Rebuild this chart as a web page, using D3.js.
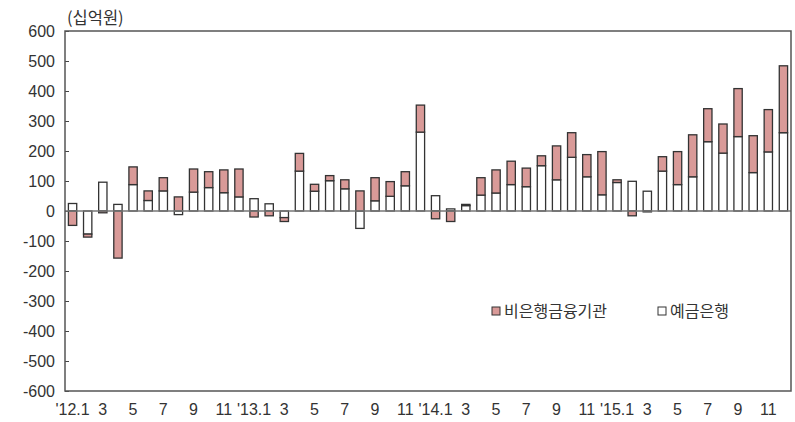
<!DOCTYPE html>
<html>
<head>
<meta charset="utf-8">
<script src="https://cdn.jsdelivr.net/npm/d3@7"></script>
<style>
  body { margin: 0; background: #fff; }
  svg { display: block; }
  .tick text { fill: #333; }
</style>
</head>
<body>
<svg width="795" height="422"></svg>
<script>
// months, '12.1 .. '15.12
var months = ["'12.1","2","3","4","5","6","7","8","9","10","11","12",
              "'13.1","2","3","4","5","6","7","8","9","10","11","12",
              "'14.1","2","3","4","5","6","7","8","9","10","11","12",
              "'15.1","2","3","4","5","6","7","8","9","10","11","12"];

// 예금은행 (십억원)
var bank = [25, -77, 96, 22, 88, 35, 67, -12, 63, 78, 61, 47,
            41, 24, -22, 133, 66, 101, 74, -58, 34, 49, 84, 263,
            51, 7, 18, 53, 60, 88, 81, 151, 104, 179, 114, 54,
            95, 99, 66, 133, 88, 114, 231, 193, 248, 128, 197, 261];

// 비은행금융기관 (십억원)
var nonbank = [-48, -10, -6, -157, 59, 32, 44, 47, 77, 53, 76, 93,
               -20, -16, -13, 59, 23, 17, 30, 67, 77, 49, 47, 90,
               -26, -35, 4, 58, 77, 78, 62, 33, 113, 82, 74, 144,
               9, -16, -3, 48, 110, 140, 110, 97, 160, 123, 141, 223];

var yTicks = [-600, -500, -400, -300, -200, -100, 0, 100, 200, 300, 400, 500, 600];

var svg = d3.select("svg"),
    width = +svg.attr("width"),
    height = +svg.attr("height");

var margin = {left: 65, right: 4, top: 31, bottom: 31};
var x0 = margin.left, x1 = width - margin.right;
var y0 = height - margin.bottom, y1 = margin.top;

var fontNum = "'Liberation Sans', Arial, sans-serif";
var fontKr = "'Noto Sans CJK KR', sans-serif";

var rows = months.map(function(m, i) {
  return {month: i, bank: bank[i], nonbank: nonbank[i]};
});

var x = d3.scaleBand()
    .domain(d3.range(months.length))
    .range([x0, x1])
    .paddingInner(0.45)
    .paddingOuter(0.225);

var y = d3.scaleLinear()
    .domain([-600, 600])
    .range([y0, y1]);

var stack = d3.stack()
    .keys(["bank", "nonbank"])
    .offset(d3.stackOffsetDiverging);

var series = stack(rows);
var fills = {bank: "#ffffff", nonbank: "#d99a98"};

// y axis, ticks pointing inward, plain hyphen for negatives
var yAxis = svg.append("g")
    .attr("transform", "translate(" + x0 + ",0)")
    .call(d3.axisLeft(y)
      .tickValues(yTicks)
      .tickSize(-4)
      .tickPadding(10)
      .tickFormat(function(v) { return String(v); }));
yAxis.select(".domain").remove();
yAxis.selectAll(".tick line").attr("stroke", "#444");
yAxis.selectAll("text")
    .attr("font-family", fontNum)
    .attr("font-size", 16);

// x axis labels, odd months only
var xAxis = svg.append("g")
    .attr("transform", "translate(0," + y0 + ")")
    .call(d3.axisBottom(x)
      .tickSize(0)
      .tickPadding(13)
      .tickFormat(function(i) { return i % 2 === 0 ? months[i] : ""; }));
xAxis.select(".domain").remove();
xAxis.selectAll("text")
    .attr("font-family", fontNum)
    .attr("font-size", 16);

// bars
svg.append("g")
  .selectAll("g")
  .data(series)
  .enter().append("g")
    .attr("fill", function(d) { return fills[d.key]; })
  .selectAll("rect")
  .data(function(d) { return d; })
  .enter().append("rect")
    .attr("x", function(d) { return x(d.data.month); })
    .attr("width", x.bandwidth())
    .attr("y", function(d) { return y(Math.max(d[0], d[1])); })
    .attr("height", function(d) { return Math.abs(y(d[0]) - y(d[1])); })
    .attr("stroke", "#333")
    .attr("stroke-width", 1.3);

// zero line
svg.append("line")
    .attr("x1", x0).attr("x2", x1)
    .attr("y1", y(0)).attr("y2", y(0))
    .attr("stroke", "#777")
    .attr("stroke-width", 1.5);

// plot frame
svg.append("rect")
    .attr("x", x0).attr("y", y1)
    .attr("width", x1 - x0).attr("height", y0 - y1)
    .attr("fill", "none")
    .attr("stroke", "#555")
    .attr("stroke-width", 1.5);

// unit label
svg.append("text")
    .attr("x", 67).attr("y", 24)
    .attr("font-family", fontKr)
    .attr("font-size", 16.5)
    .attr("fill", "#333")
    .text("(십억원)");

// legend
var legend = [
  {label: "비은행금융기관", key: "nonbank", x: 492},
  {label: "예금은행", key: "bank", x: 658}
];
var lg = svg.append("g")
  .selectAll("g")
  .data(legend)
  .enter().append("g")
    .attr("transform", function(d) { return "translate(" + d.x + ",311)"; });
lg.append("rect")
    .attr("x", 0).attr("y", -4)
    .attr("width", 8).attr("height", 8)
    .attr("fill", function(d) { return fills[d.key]; })
    .attr("stroke", "#333")
    .attr("stroke-width", 1);
lg.append("text")
    .attr("x", 12).attr("y", 0)
    .attr("dy", "0.35em")
    .attr("font-family", fontKr)
    .attr("font-size", 16)
    .attr("fill", "#333")
    .text(function(d) { return d.label; });
</script>
</body>
</html>
